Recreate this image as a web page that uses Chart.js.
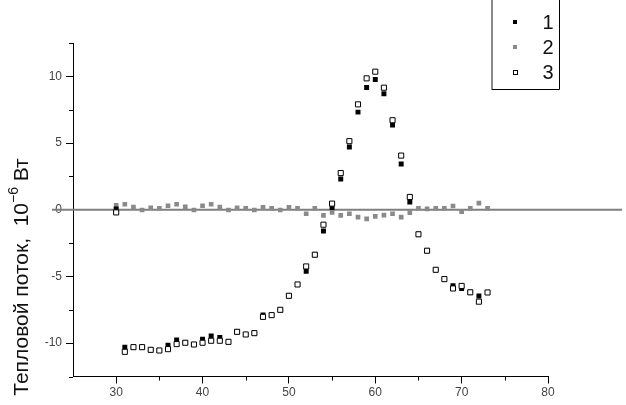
<!DOCTYPE html>
<html><head><meta charset="utf-8">
<script src="https://cdn.jsdelivr.net/npm/chart.js@4/dist/chart.umd.min.js"></script>
<style>html,body{margin:0;padding:0;background:#fff;overflow:hidden}</style>
</head><body>
<canvas id="c" width="626" height="405"></canvas>
<script>
const xValues = [30,31,32,33,34,35,36,37,38,39,40,41,42,43,44,45,46,47,48,49,50,51,52,53,54,55,56,57,58,59,60,61,62,63,64,65,66,67,68,69,70,71,72,73];
const series1 = [0.05,-10.3,-10.3,-10.3,-10.5,-10.55,-10.15,-9.77,-9.95,-10.1,-9.7,-9.47,-9.57,-9.9,-9.15,-9.35,-9.25,-7.88,-7.9,-7.5,-6.45,-5.6,-4.62,-3.37,-1.6,0.17,2.3,4.71,7.32,9.17,9.77,8.7,6.36,3.43,0.58,-1.84,-3.07,-4.5,-5.2,-5.7,-5.91,-6.19,-6.47,-6.2];
const series2 = [0.34,0.41,0.2,-0.02,0.15,0.11,0.3,0.41,0.22,-0.02,0.3,0.41,0.2,-0.02,0.15,0.11,-0.02,0.18,0.11,-0.02,0.18,0.11,-0.3,0.11,-0.42,-0.2,-0.42,-0.3,-0.55,-0.68,-0.5,-0.4,-0.3,-0.55,-0.22,0.11,0.06,0.11,0.11,0.28,-0.15,0.1,0.5,0.11];
const series3 = [-0.2,-10.65,-10.3,-10.3,-10.5,-10.55,-10.45,-10.07,-9.97,-10.1,-9.97,-9.82,-9.82,-9.9,-9.15,-9.35,-9.25,-8.03,-7.9,-7.5,-6.45,-5.6,-4.25,-3.37,-1.12,0.46,2.75,5.14,7.9,9.85,10.35,9.15,6.71,4.06,0.96,-1.84,-3.07,-4.5,-5.2,-5.9,-5.71,-6.19,-6.89,-6.2];
const seriesNames = ['1','2','3'];
const xTickValues = [30,40,50,60,70,80];
const xMinorTicks = [35,45,55,65,75];
const yTickValues = [-10,-5,0,5,10];
const yMinorTicks = [-12.5,-7.5,-2.5,2.5,7.5,12.5];
const yTitleMain = 'Тепловой поток,  10';
const yTitleSup = '−6';
const yTitleEnd = ' Вт';

const FONT = 'Liberation Sans, Arial, sans-serif';
const toPts = arr => xValues.map((x,i)=>({x, y: arr[i]}));

const decor = {
  id:'decor',
  beforeDatasetsDraw(chart){
    const {ctx, scales:{x,y}} = chart;
    const y0 = y.getPixelForValue(0);
    ctx.save();
    ctx.strokeStyle = '#7f7f7f';
    ctx.lineWidth = 2;
    ctx.beginPath();
    ctx.moveTo(52, y0); ctx.lineTo(622, y0);
    ctx.stroke();
    ctx.restore();
  },
  afterDraw(chart){
    const {ctx, scales:{x,y}, chartArea:a} = chart;
    ctx.save();
    ctx.strokeStyle = '#000';
    ctx.lineWidth = 1;
    ctx.beginPath();
    xMinorTicks.forEach(v=>{const px=Math.round(x.getPixelForValue(v))+0.5; ctx.moveTo(px,a.bottom); ctx.lineTo(px,a.bottom+4);});
    yMinorTicks.forEach(v=>{const py=Math.round(y.getPixelForValue(v))+0.5; ctx.moveTo(a.left,py); ctx.lineTo(a.left-4,py);});
    ctx.stroke();

    // y title
    ctx.translate(22, 277);
    ctx.rotate(-Math.PI/2);
    ctx.fillStyle = '#111';
    ctx.textBaseline = 'middle';
    ctx.textAlign = 'left';
    const big = '21px ' + FONT, small = '14px ' + FONT;
    ctx.font = big; const w1 = ctx.measureText(yTitleMain).width; const w3 = ctx.measureText(yTitleEnd).width;
    ctx.font = small; const w2 = ctx.measureText(yTitleSup).width;
    let sx = -(w1+w2+w3)/2;
    ctx.font = big; ctx.fillText(yTitleMain, sx, 0); sx += w1;
    ctx.font = small; ctx.fillText(yTitleSup, sx, -8); sx += w2;
    ctx.font = big; ctx.fillText(yTitleEnd, sx, 0);
    ctx.restore();

    // legend
    ctx.save();
    ctx.strokeStyle = '#888'; ctx.lineWidth = 2;
    ctx.beginPath(); ctx.moveTo(492, 0); ctx.lineTo(492, 90); ctx.stroke();
    ctx.strokeStyle = '#000'; ctx.lineWidth = 1;
    ctx.beginPath(); ctx.moveTo(559.5, 0); ctx.lineTo(559.5, 89.5); ctx.lineTo(492, 89.5); ctx.stroke();
    const rows = [22, 47, 72];
    ctx.font = '20px ' + FONT; ctx.fillStyle = '#111'; ctx.textAlign='center'; ctx.textBaseline='middle';
    seriesNames.forEach((n,i)=>{
      const ry = rows[i];
      if(i===0){ctx.fillStyle='#000'; ctx.fillRect(513,ry-2,4,4);}
      if(i===1){ctx.fillStyle='#8a8a8a'; ctx.fillRect(513,ry-2,4,4);}
      if(i===2){ctx.strokeStyle='#000'; ctx.lineWidth=1; ctx.fillStyle='#fff'; ctx.fillRect(513,ry-2,4,4); ctx.strokeRect(513.5,ry-1.5,4,4);}
      ctx.fillStyle='#111';
      ctx.fillText(n, 548, ry+1);
    });
    ctx.restore();
  }
};

const tickFont = {family: FONT, size: 12};
new Chart(document.getElementById('c'), {
  type:'scatter',
  data:{datasets:[
    {label:seriesNames[0], data:toPts(series1), pointStyle:'rect', radius:3.5, backgroundColor:'#000', borderColor:'#000', borderWidth:0, order:1},
    {label:seriesNames[1], data:toPts(series2), pointStyle:'rect', radius:3.3, backgroundColor:'#8a8a8a', borderColor:'#8a8a8a', borderWidth:0, order:2},
    {label:seriesNames[2], data:toPts(series3), pointStyle:'rect', radius:3.6, backgroundColor:'#fff', borderColor:'#000', borderWidth:1, order:0}
  ]},
  options:{
    responsive:false, animation:false, devicePixelRatio:1,
    layout:{padding:{top:43, right:78, left:0, bottom:0}},
    plugins:{legend:{display:false}, tooltip:{enabled:false}},
    scales:{
      x:{type:'linear', min:25, max:80,
        afterBuildTicks:s=>{s.ticks = xTickValues.map(v=>({value:v}));},
        afterFit:s=>{s.height = 28.5;},
        ticks:{color:'#444', font:tickFont, autoSkip:false, maxRotation:0, padding:2},
        grid:{display:true, drawOnChartArea:false, drawTicks:true, tickLength:7, color:'#000', tickColor:'#000'},
        border:{display:true, color:'#000', width:1}},
      y:{type:'linear', min:-12.5, max:12.5,
        afterBuildTicks:s=>{s.ticks = yTickValues.map(v=>({value:v}));},
        afterFit:s=>{s.width = 73;},
        ticks:{color:'#444', font:tickFont, autoSkip:false, padding:4},
        grid:{display:true, drawOnChartArea:false, drawTicks:true, tickLength:7, color:'#000', tickColor:'#000'},
        border:{display:true, color:'#000', width:1}}
    }
  },
  plugins:[decor]
});
</script>
</body></html>
